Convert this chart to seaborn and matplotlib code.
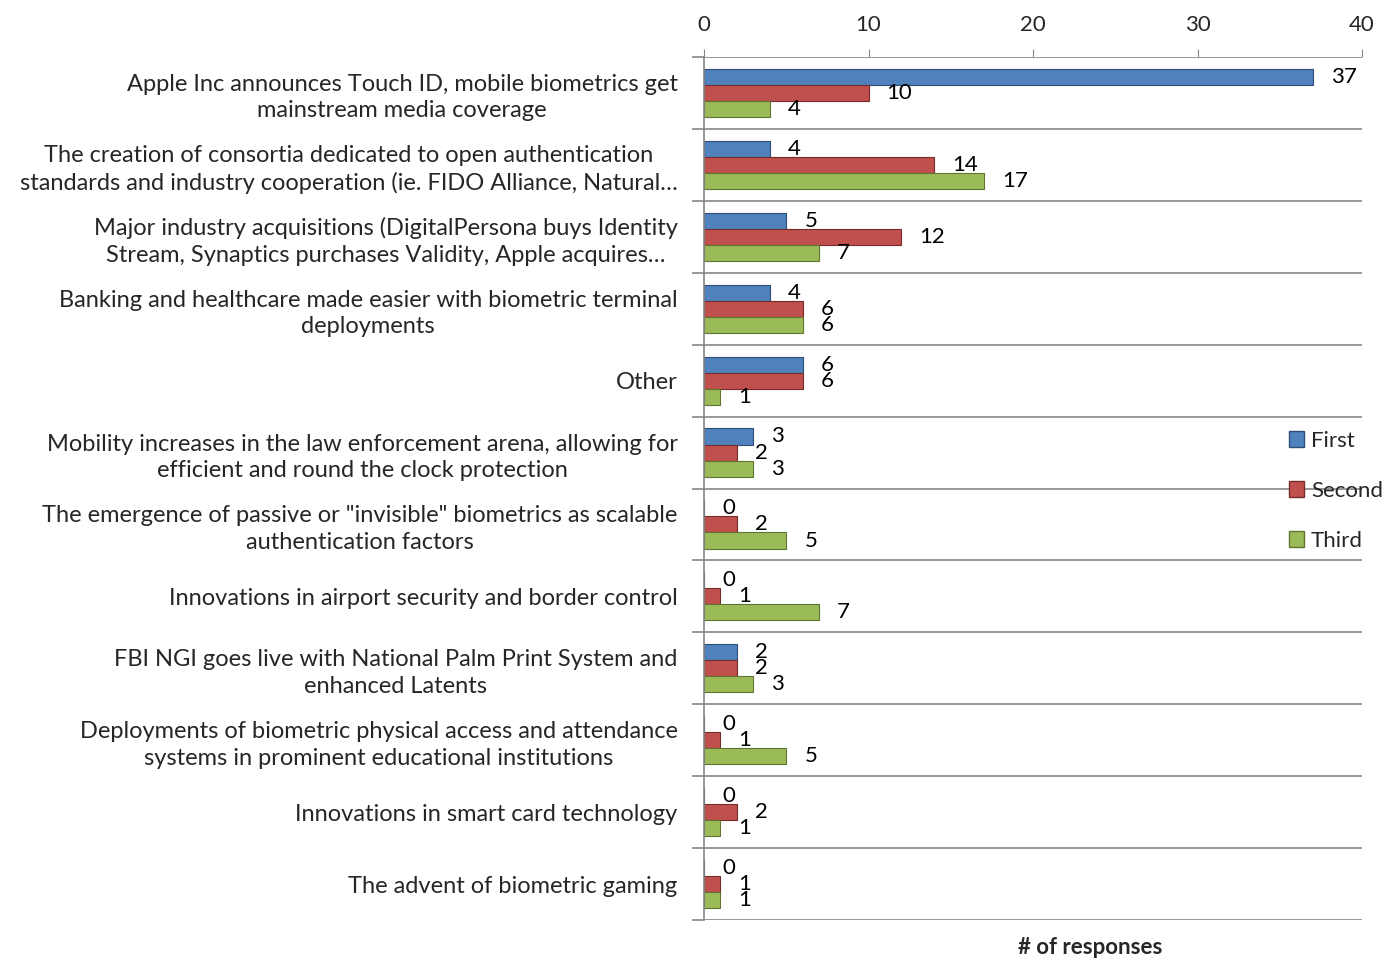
import matplotlib
matplotlib.use("Agg")
import matplotlib.pyplot as plt
from matplotlib.patches import Patch
import seaborn as sns
import pandas as pd
import numpy as np

categories = [
    "Apple Inc announces Touch ID, mobile biometrics get\nmainstream media coverage",
    "The creation of consortia dedicated to open authentication\nstandards and industry cooperation (ie. FIDO Alliance, Natural…",
    "Major industry acquisitions (DigitalPersona buys Identity\nStream, Synaptics purchases Validity, Apple acquires…",
    "Banking and healthcare made easier with biometric terminal\ndeployments",
    "Other",
    "Mobility increases in the law enforcement arena, allowing for\nefficient and round the clock protection",
    "The emergence of passive or \"invisible\" biometrics as scalable\nauthentication factors",
    "Innovations in airport security and border control",
    "FBI NGI goes live with National Palm Print System and\nenhanced Latents",
    "Deployments of biometric physical access and attendance\nsystems in prominent educational institutions",
    "Innovations in smart card technology",
    "The advent of biometric gaming",
]
first = [37, 4, 5, 4, 6, 3, 0, 0, 2, 0, 0, 0]
second = [10, 14, 12, 6, 6, 2, 2, 1, 2, 1, 2, 1]
third = [4, 17, 7, 6, 1, 3, 5, 7, 3, 5, 1, 1]
series_names = ["First", "Second", "Third"]
x_ticks = [0, 10, 20, 30, 40]

colors = {"First": "#4F81BD", "Second": "#C0504D", "Third": "#9BBB59"}
edges = {"First": "#2C4D75", "Second": "#772C2A", "Third": "#5F7530"}

rows = []
for name, vals in zip(series_names, [first, second, third]):
    for c, v in zip(categories, vals):
        rows.append({"category": c, "series": name, "value": v})
df = pd.DataFrame(rows)

sns.set_style("white")
plt.rcParams["font.family"] = ["Lato", "DejaVu Sans"]

fig = plt.figure(figsize=(13.95, 9.61), dpi=100)
ax = fig.add_axes([704 / 1395, 1 - 920 / 961, (1362 - 704) / 1395, (920 - 57) / 961])

sns.barplot(data=df, y="category", x="value", hue="series", order=categories,
            hue_order=series_names, palette=colors, orient="h", width=0.67,
            ax=ax, legend=False, saturation=1)

# edge colors and data labels
for cont, name in zip(ax.containers, series_names):
    for bar in cont:
        bar.set_edgecolor(edges[name])
        bar.set_linewidth(0.8)
    ax.bar_label(cont, labels=[str(int(b.get_width())) for b in cont],
                 padding=13, fontsize=16, color="black")

ax.set_xlim(0, 40)
ax.set_ylim(len(categories) - 0.5, -0.5)
ax.xaxis.tick_top()
ax.set_xticks(x_ticks)
ax.tick_params(axis="x", which="major", top=True, length=6, color="#868686",
               labelsize=16, pad=10, direction="out")
ax.set_xlabel("")
ax.set_ylabel("")

# y: category labels
ax.tick_params(axis="y", which="major", length=0, pad=19, labelsize=17)
for t in ax.get_yticklabels():
    t.set_multialignment("center")
    t.set_linespacing(1.32)

# boundary gridlines and minor ticks
bounds = np.arange(-0.5, len(categories), 1.0)
ax.set_yticks(bounds, minor=True)
ax.tick_params(axis="y", which="minor", length=9, color="#868686", width=1.2, left=True)
for b in bounds:
    ax.axhline(b, color="#868686", lw=1.2, zorder=0)

for s in ["top", "right", "bottom"]:
    ax.spines[s].set_visible(False)
ax.spines["left"].set_color("#868686")
ax.spines["left"].set_linewidth(1.2)

handles = [Patch(facecolor=colors[n], edgecolor=edges[n], label=n) for n in series_names]
fig.legend(handles=handles, loc="upper left", bbox_to_anchor=(1280 / 1395, 1 - 422 / 961),
           frameon=False, fontsize=16, handlelength=0.7, handleheight=0.7,
           handletextpad=0.3, labelspacing=1.35, borderaxespad=0)

fig.text(1090 / 1395, 1 - 948 / 961, "# of responses", ha="center", va="center",
         fontsize=16, fontweight="bold")

fig.savefig("out.png", dpi=100)
